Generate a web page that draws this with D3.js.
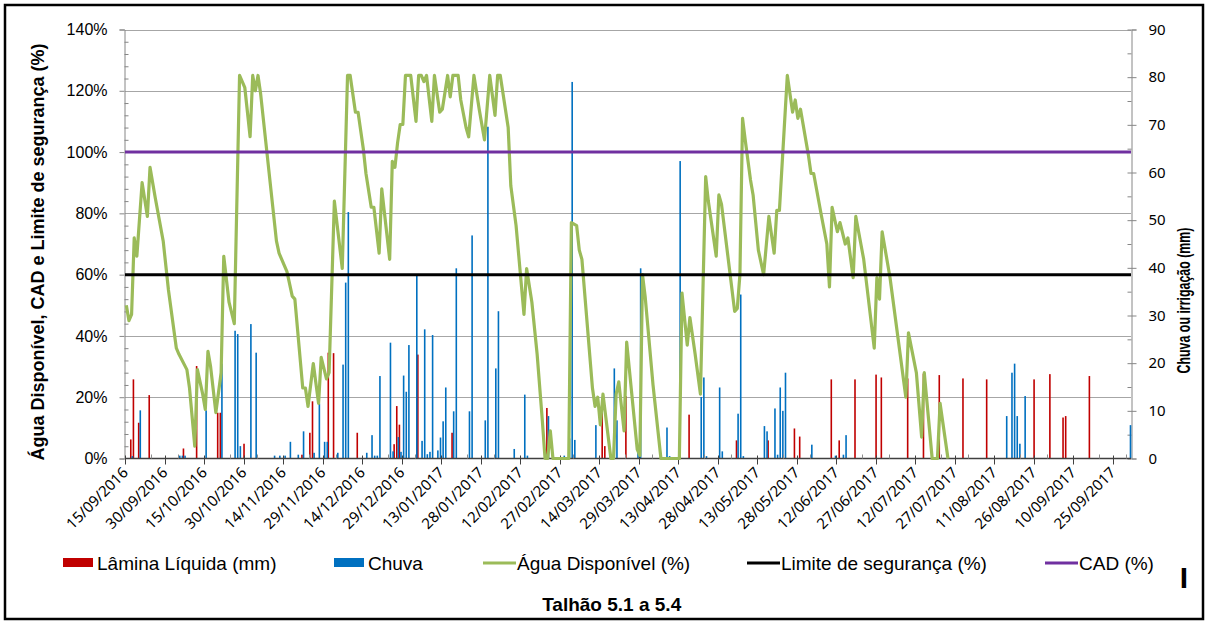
<!DOCTYPE html>
<html>
<head>
<meta charset="utf-8">
<script src="https://cdn.jsdelivr.net/npm/d3@7"></script>
<style>
  body { margin: 0; background: #fff; }
  svg { display: block; font-family: "Liberation Sans", Arial, sans-serif; }
</style>
</head>
<body>
<div id="chart"></div>
<script>
// dias contados a partir de 15/09/2016 (dia 0) até 01/10/2017 (dia 381)
var nDias = 382;

var rotulosX = ["15/09/2016","30/09/2016","15/10/2016","30/10/2016","14/11/2016","29/11/2016",
  "14/12/2016","29/12/2016","13/01/2017","28/01/2017","12/02/2017","27/02/2017","14/03/2017",
  "29/03/2017","13/04/2017","28/04/2017","13/05/2017","28/05/2017","12/06/2017","27/06/2017",
  "12/07/2017","27/07/2017","11/08/2017","26/08/2017","10/09/2017","25/09/2017"];

var ticksEsq = [0, 0.2, 0.4, 0.6, 0.8, 1.0, 1.2, 1.4];
var ticksDir = [0, 10, 20, 30, 40, 50, 60, 70, 80, 90];

// Lâmina Líquida (mm): [dia, mm]
var lamina = [[2,4.0],[3,16.6],[5,7.5],[9,13.3],[22,2.1],[27,19.4],[35,9.6],[36,9.6],[45,3.1],
  [67,0.8],[70,5.4],[71,12.0],[77,22.2],[79,22.1],[88,5.4],[102,3.0],[103,11.0],[104,7.1],
  [111,21.8],[124,5.4],[160,10.6],[181,12.0],[182,2.6],[190,13.1],[214,9.2],[232,3.8],[244,3.8],
  [254,6.3],[256,4.6],[268,16.6],[271,3.8],[277,16.6],[285,17.6],[287,17.0],[297,16.8],[303,17.8],
  [309,17.5],[318,16.8],[327,16.6],[345,16.6],[351,17.7],[356,8.6],[357,8.9],[366,17.3]];

// Chuva (mm): [dia, mm]
var chuva = [[2,0.5],[5,10.1],[20,0.6],[21,0.6],[22,0.6],[30,10.1],[36,19.9],[41,26.8],[42,26.1],
  [43,2.6],[47,28.2],[49,22.2],[56,0.6],[58,0.6],[60,0.6],[62,3.5],[65,0.8],[67,5.7],[71,1.2],
  [73,11.5],[75,3.5],[76,3.5],[80,1.2],[82,19.7],[83,36.9],[84,51.7],[91,1.2],[93,4.9],[94,0.6],
  [95,0.6],[96,17.3],[100,24.3],[101,1.5],[103,4.5],[104,1.4],[105,17.4],[106,14.0],[107,23.8],
  [110,38.3],[112,3.7],[113,27.1],[114,0.9],[115,1.4],[116,25.9],[118,1.7],[119,4.4],[120,7.8],
  [121,14.9],[124,9.9],[125,39.9],[130,9.9],[131,46.8],[136,8.0],[137,69.6],[140,18.9],[141,30.9],
  [147,2.0],[151,13.4],[152,0.6],[160,8.9],[166,0.6],[168,4.2],[169,79.0],[170,3.9],[178,7.0],
  [185,18.9],[186,8.0],[194,2.0],[195,39.9],[205,6.5],[206,0.5],[210,62.4],[218,12.9],[219,17.0],
  [220,0.5],[225,14.9],[226,1.5],[232,9.4],[233,34.4],[234,0.5],[242,6.8],[243,5.7],[246,10.5],
  [247,0.8],[248,14.9],[249,10.0],[250,18.0],[260,2.9],[269,0.6],[272,0.8],[273,4.9],[334,8.9],
  [336,18.0],[337,19.9],[338,8.9],[339,3.1],[341,13.1],[381,7.0]];

// Água Disponível (%): [dia, %]
var aguaDisp = [[0,50],[1,45],[2,47],[3,72],[4,66],[6,90],[8,79],[9,95],[11,85],[14,71],[16,55],
  [19,36],[20,34],[23,29],[24,23],[26,4],[27,29],[29,21],[30,16],[31,35],[32,30],[34,15],[36,28],
  [37,66],[39,51],[41,44],[43,125],[45,121],[47,105],[48,125],[49,120],[50,125],[51,119],[57,71],
  [58,67],[61,61],[63,53],[64,52],[67,23],[68,23],[69,17],[71,31],[73,18],[74,33],[76,26],[77,28],
  [79,84],[82,62],[84,125],[85,125],[87,113],[88,113],[90,101],[91,93],[93,82],[94,82],[96,67],
  [97,88],[100,65],[101,97],[102,95],[103,103],[104,109],[105,109],[106,125],[108,125],[110,110],
  [111,125],[112,125],[113,123],[114,125],[116,110],[117,125],[119,113],[120,114],[122,125],
  [123,118],[124,125],[126,125],[127,117],[129,108],[130,105],[132,125],[134,114],[136,104],
  [138,125],[140,112],[141,125],[142,125],[145,108],[146,89],[148,76],[151,47],[152,62],[154,51],
  [156,34],[158,12],[159,0],[160,0],[161,9],[162,0],[168,0],[169,77],[171,76],[172,68],[173,65],
  [177,23],[178,17],[179,20],[180,11],[181,21],[184,0],[185,0],[186,21],[187,25],[189,9],[190,38],
  [194,3],[195,1],[196,60],[197,53],[200,24],[203,0],[210,0],[211,54],[213,37],[214,46],[216,34],
  [218,21],[220,92],[221,84],[224,66],[225,86],[226,83],[229,62],[231,48],[232,49],[233,60],
  [234,111],[235,104],[237,91],[238,86],[240,68],[242,60],[244,79],[246,67],[247,81],[248,81],
  [251,125],[253,113],[254,117],[255,111],[256,114],[259,99],[260,93],[261,93],[264,79],[266,70],
  [267,56],[268,82],[270,74],[271,77],[273,70],[274,72],[276,59],[277,79],[280,65],[284,36],
  [285,59],[286,52],[287,74],[290,59],[296,20],[297,41],[300,28],[302,7],[303,28],[306,0],[308,0],
  [309,18],[312,0]];

var limiteSeguranca = 60;   // %
var cadValor = 100;         // %

var legenda = [
  {nome: "Lâmina Líquida (mm)", tipo: "bar", cor: "#c00000", x: 63},
  {nome: "Chuva", tipo: "bar", cor: "#0070c0", x: 334},
  {nome: "Água Disponível (%)", tipo: "line", cor: "#9bbb59", x: 483},
  {nome: "Limite de segurança (%)", tipo: "line", cor: "#000000", x: 747},
  {nome: "CAD (%)", tipo: "line", cor: "#7030a0", x: 1045}
];

var svgWidth = 1208, svgHeight = 622;
var plot = {left: 125, right: 1131, top: 29.5, bottom: 458.5};

var svg = d3.select("#chart").append("svg")
  .attr("width", svgWidth)
  .attr("height", svgHeight);

svg.append("rect")
  .attr("x", 5).attr("y", 5)
  .attr("width", 1198).attr("height", 614)
  .attr("fill", "#fff")
  .attr("stroke", "#000")
  .attr("stroke-width", 2.5);

var xScale = d3.scaleLinear().domain([0, nDias]).range([plot.left, plot.right]);
var yScale = d3.scaleLinear().domain([0, 1.4]).range([plot.bottom, plot.top]);
var y2Scale = d3.scaleLinear().domain([0, 90]).range([plot.bottom, plot.top]);

// grade horizontal
svg.append("g").selectAll("line")
  .data(ticksEsq.slice(1))
  .enter().append("line")
  .attr("x1", plot.left).attr("x2", plot.right)
  .attr("y1", d => Math.round(yScale(d)) + 0.5)
  .attr("y2", d => Math.round(yScale(d)) + 0.5)
  .attr("stroke", "#a6a6a6")
  .attr("stroke-width", 1);

// eixo esquerdo
var eixoEsq = svg.append("g")
  .attr("transform", `translate(${plot.left - 0.5},0)`)
  .call(d3.axisLeft(yScale).tickValues(ticksEsq).tickFormat(d3.format(".0%")).tickSize(5).tickPadding(12));
eixoEsq.select(".domain").attr("stroke", "#868686");
eixoEsq.selectAll(".tick line").attr("stroke", "#868686");
eixoEsq.selectAll("text").attr("font-family", "Liberation Sans, Arial, sans-serif")
  .attr("font-size", 16).attr("fill", "#000");

var menoresEsq = d3.range(0, 141, 4).filter(v => v % 20 !== 0).map(v => v / 100);
var eixoEsqMenor = svg.append("g")
  .attr("transform", `translate(${plot.left - 0.5},0)`)
  .call(d3.axisRight(yScale).tickValues(menoresEsq).tickFormat("").tickSize(4));
eixoEsqMenor.select(".domain").remove();
eixoEsqMenor.selectAll(".tick line").attr("stroke", "#868686");

// eixo direito
var eixoDir = svg.append("g")
  .attr("transform", `translate(${plot.right + 0.5},0)`)
  .call(d3.axisRight(y2Scale).tickValues(ticksDir).tickSize(5).tickPadding(12));
eixoDir.select(".domain").attr("stroke", "#868686");
eixoDir.selectAll(".tick line").attr("stroke", "#868686").attr("x1", -4);
eixoDir.selectAll("text").attr("font-family", "Noto Sans, sans-serif")
  .attr("font-size", 15).attr("fill", "#000");

var menoresDir = d3.range(5, 90, 10);
var eixoDirMenor = svg.append("g")
  .attr("transform", `translate(${plot.right + 0.5},0)`)
  .call(d3.axisLeft(y2Scale).tickValues(menoresDir).tickFormat("").tickSize(4));
eixoDirMenor.select(".domain").remove();
eixoDirMenor.selectAll(".tick line").attr("stroke", "#868686");

// barras: lâmina (vermelho) e chuva (azul), lado a lado em cada dia
var larguraBarra = 1.6;
svg.append("g").selectAll("rect")
  .data(lamina)
  .enter().append("rect")
  .attr("x", d => xScale(d[0] + 0.5) - larguraBarra)
  .attr("y", d => y2Scale(d[1]))
  .attr("width", larguraBarra)
  .attr("height", d => plot.bottom - y2Scale(d[1]))
  .attr("fill", "#c00000");

svg.append("g").selectAll("rect")
  .data(chuva)
  .enter().append("rect")
  .attr("x", d => xScale(d[0] + 0.5))
  .attr("y", d => y2Scale(d[1]))
  .attr("width", larguraBarra)
  .attr("height", d => plot.bottom - y2Scale(d[1]))
  .attr("fill", "#0070c0");

// eixo x
var eixoX = svg.append("g");
eixoX.append("line")
  .attr("x1", plot.left).attr("x2", plot.right)
  .attr("y1", plot.bottom).attr("y2", plot.bottom)
  .attr("stroke", "#404040").attr("stroke-width", 1.3);
var menoresX = d3.range(10, nDias, 10).filter(v => v % 15 !== 0);
eixoX.selectAll(".menor")
  .data(menoresX)
  .enter().append("line")
  .attr("class", "menor")
  .attr("x1", d => Math.round(xScale(d)) + 0.5).attr("x2", d => Math.round(xScale(d)) + 0.5)
  .attr("y1", plot.bottom - 4).attr("y2", plot.bottom)
  .attr("stroke", "#8c8c8c");
eixoX.selectAll(".maior")
  .data(rotulosX)
  .enter().append("line")
  .attr("class", "maior")
  .attr("x1", (d, i) => Math.round(xScale(i * 15)) + 0.5).attr("x2", (d, i) => Math.round(xScale(i * 15)) + 0.5)
  .attr("y1", plot.bottom - 3).attr("y2", plot.bottom + 6)
  .attr("stroke", "#404040");
eixoX.selectAll("text")
  .data(rotulosX)
  .enter().append("text")
  .attr("transform", (d, i) => `translate(${xScale(i * 15) + 4},${plot.bottom + 15}) rotate(-45)`)
  .attr("text-anchor", "end")
  .attr("font-family", "Noto Sans, sans-serif")
  .attr("font-size", 15)
  .text(d => d);

// linhas
var linhaAgua = d3.line()
  .x(d => xScale(d[0] + 0.5))
  .y(d => yScale(d[1] / 100));

svg.append("path")
  .datum(aguaDisp)
  .attr("d", linhaAgua)
  .attr("fill", "none")
  .attr("stroke", "#9bbb59")
  .attr("stroke-width", 3.2)
  .attr("stroke-linejoin", "round");

var linhaConst = d3.line().x(d => xScale(d[0])).y(d => yScale(d[1] / 100));
svg.append("path")
  .datum([[0, limiteSeguranca], [nDias, limiteSeguranca]])
  .attr("d", linhaConst)
  .attr("stroke", "#000").attr("stroke-width", 3);
svg.append("path")
  .datum([[0, cadValor], [nDias, cadValor]])
  .attr("d", linhaConst)
  .attr("stroke", "#7030a0").attr("stroke-width", 3);

// títulos dos eixos
svg.append("text")
  .attr("transform", `translate(44,${(plot.top + plot.bottom) / 2 + 8}) rotate(-90)`)
  .attr("text-anchor", "middle")
  .attr("font-weight", "bold")
  .attr("font-size", 18)
  .text("Água Disponível, CAD e Limite de segurança (%)");

svg.append("text")
  .attr("transform", `translate(1190,300.5) rotate(-90)`)
  .attr("text-anchor", "middle")
  .attr("font-family", "Liberation Sans Narrow, Liberation Sans, sans-serif")
  .attr("font-weight", "bold")
  .attr("font-size", 18)
  .attr("textLength", 146)
  .attr("lengthAdjust", "spacingAndGlyphs")
  .text("Chuva ou irrigação (mm)");

// legenda
var leg = svg.append("g").selectAll("g")
  .data(legenda)
  .enter().append("g")
  .attr("transform", d => `translate(${d.x},0)`);
leg.filter(d => d.tipo === "bar").append("rect")
  .attr("x", 0).attr("y", 558).attr("width", 30).attr("height", 9)
  .attr("fill", d => d.cor);
leg.filter(d => d.tipo === "line").append("line")
  .attr("x1", 0).attr("x2", 33).attr("y1", 563).attr("y2", 563)
  .attr("stroke", d => d.cor).attr("stroke-width", 3);
leg.append("text")
  .attr("x", 34)
  .attr("y", 569.5)
  .attr("font-size", 19)
  .text(d => d.nome);

svg.append("text")
  .attr("x", 611.7).attr("y", 611)
  .attr("text-anchor", "middle")
  .attr("font-weight", "bold")
  .attr("font-size", 19)
  .text("Talhão 5.1 a 5.4");

svg.append("text")
  .attr("x", 1184).attr("y", 588)
  .attr("text-anchor", "middle")
  .attr("font-weight", "bold")
  .attr("font-size", 30)
  .text("I");
</script>
</body>
</html>
